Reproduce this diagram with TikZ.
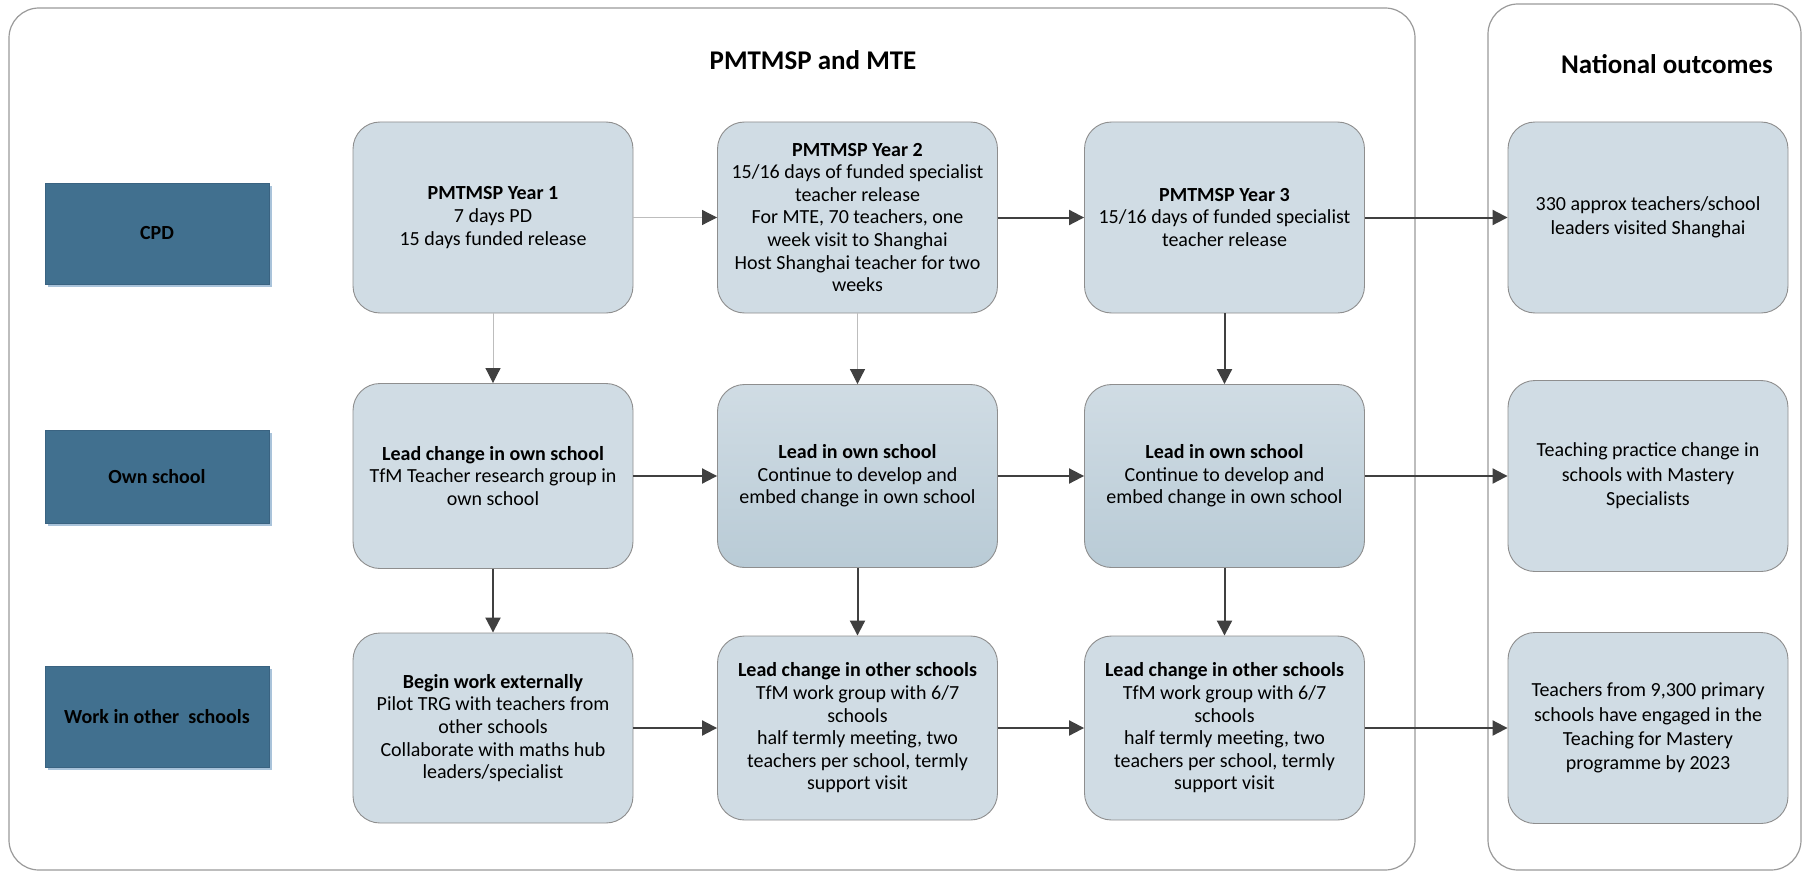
\documentclass[tikz,border=0pt]{standalone}
\usepackage{fontspec}
\setmainfont{Carlito}
\usetikzlibrary{arrows.meta,shadows}
\definecolor{labelblue}{HTML}{41708F}
\definecolor{labelline}{HTML}{3A6381}
\definecolor{shadowblue}{HTML}{A9C3DA}
\definecolor{boxfill}{HTML}{D0DCE4}
\definecolor{boxgrad}{HTML}{B9CBD6}
\definecolor{boxline}{HTML}{8E8E8E}
\definecolor{framegray}{HTML}{9A9A9A}
\definecolor{arrowdark}{HTML}{404040}
\definecolor{arrowlight}{HTML}{BDBDBD}
\begin{document}
\begin{tikzpicture}[x=1pt,y=-1pt,
  stepbox/.style={draw=boxline, line width=0.9pt, fill=boxfill, rounded corners=27pt,
    minimum width=280pt, align=center, inner sep=0pt, text=black,
    font=\fontsize{20}{22.6}\selectfont},
  gradbox/.style={stepbox, top color=boxfill, bottom color=boxgrad},
  outbox/.style={stepbox, font=\fontsize{20}{24.4}\selectfont},
  labelbox/.style={draw=labelline, line width=0.8pt, fill=labelblue, minimum width=224pt,
    inner sep=0pt, text=black, font=\bfseries\fontsize{20}{24}\selectfont,
    drop shadow={shadow xshift=3pt, shadow yshift=-3pt, fill=shadowblue, opacity=1}},
  titletext/.style={font=\bfseries\fontsize{27}{32}\selectfont, text=black},
  arr/.style={draw=arrowdark, line width=2pt, -{Triangle[length=15pt,width=15pt]}},
  larr/.style={draw=arrowlight, line width=1pt, -{Triangle[length=15pt,width=15pt,color=arrowdark]}},
  frame/.style={draw=framegray, line width=1.2pt, rounded corners=30pt}
]
\useasboundingbox (0,0) rectangle (1804,872);
\fill[white] (0,0) rectangle (1804,872);

% frames
\draw[frame] (9,8) rectangle (1415,870);
\draw[frame] (1488,4) rectangle (1801,870);

% titles
\node[titletext] (t1) at (813,60) {PMTMSP and MTE};
\node[titletext] (t2) at (1667,64) {National outcomes};

% row labels
\node[labelbox, minimum height=101pt] (l1) at (157,233.5) {CPD};
\node[labelbox, minimum height=93pt] (l2) at (157,476.5) {Own school};
\node[labelbox, minimum height=101pt] (l3) at (157,716.5) {Work in other\ \ schools};

% row 1
\node[stepbox, minimum height=191pt] (y1) at (493,217.5)
  {\textbf{PMTMSP Year 1}\\7 days PD\\15 days funded release};
\node[stepbox, minimum height=191pt] (y2) at (857.5,217.5)
  {\textbf{PMTMSP Year 2}\\15/16 days of funded specialist\\teacher release\\For MTE, 70 teachers, one\\week visit to Shanghai\\Host Shanghai teacher for two\\weeks};
\node[stepbox, minimum height=191pt] (y3) at (1224.5,217.5)
  {\textbf{PMTMSP Year 3}\\15/16 days of funded specialist\\teacher release};
\node[outbox, minimum height=191pt] (o1) at (1648,217.5)
  {330 approx teachers/school\\leaders visited Shanghai};

% row 2
\node[stepbox, minimum height=185pt] (a1) at (493,476)
  {\textbf{Lead change in own school}\\TfM Teacher research group in\\own school};
\node[gradbox, minimum height=183pt] (a2) at (857.5,476)
  {\textbf{Lead in own school}\\Continue to develop and\\embed change in own school};
\node[gradbox, minimum height=183pt] (a3) at (1224.5,476)
  {\textbf{Lead in own school}\\Continue to develop and\\embed change in own school};
\node[outbox, minimum height=191pt] (o2) at (1648,476)
  {Teaching practice change in\\schools with Mastery\\Specialists};

% row 3
\node[stepbox, minimum height=190pt] (b1) at (493,728)
  {\textbf{Begin work externally}\\Pilot TRG with teachers from\\other schools\\Collaborate with maths hub\\leaders/specialist};
\node[stepbox, minimum height=184pt] (b2) at (857.5,728)
  {\textbf{Lead change in other schools}\\TfM work group with 6/7\\schools\\half termly meeting, two\\teachers per school, termly\\support visit};
\node[stepbox, minimum height=184pt] (b3) at (1224.5,728)
  {\textbf{Lead change in other schools}\\TfM work group with 6/7\\schools\\half termly meeting, two\\teachers per school, termly\\support visit};
\node[outbox, minimum height=191pt] (o3) at (1648,728)
  {Teachers from 9,300 primary\\schools have engaged in the\\Teaching for Mastery\\programme by 2023};

% connectors
\draw[larr] (y1) -- (y2);
\draw[arr] (y2) -- (y3);
\draw[arr] (y3) -- (o1);
\draw[larr] (y1) -- (a1);
\draw[larr] (y2) -- (a2);
\draw[arr] (y3) -- (a3);
\draw[arr] (a1) -- (a2);
\draw[arr] (a2) -- (a3);
\draw[arr] (a3) -- (o2);
\draw[arr] (a1) -- (b1);
\draw[arr] (a2) -- (b2);
\draw[arr] (a3) -- (b3);
\draw[arr] (b1) -- (b2);
\draw[arr] (b2) -- (b3);
\draw[arr] (b3) -- (o3);
\end{tikzpicture}
\end{document}
